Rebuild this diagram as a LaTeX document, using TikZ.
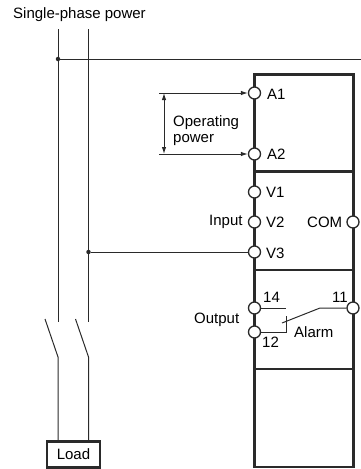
\documentclass[tikz,border=0pt]{standalone}
\usepackage{xcolor}
\usepackage{fontspec}
\setmainfont{Liberation Sans}
\usetikzlibrary{positioning, arrows.meta}
\definecolor{wireColor}{HTML}{2A2A2A}

\begin{document}
\begin{tikzpicture}[
  x=1pt, y=-1pt,
  wire/.style={draw=wireColor, line width=1pt},
  arrow/.style={wire, -{Latex[length=7pt,width=4.5pt]}},
  panel/.style={
    rectangle,
    draw=wireColor,
    line width=2.4pt,
    minimum width=99pt,
    outer sep=0pt,
    inner sep=0pt
  },
  terminal/.style={
    circle,
    draw=wireColor,
    fill=white,
    line width=1.3pt,
    minimum size=12pt,
    inner sep=0pt
  },
  junction/.style={circle, fill=wireColor, minimum size=4.5pt, inner sep=0pt},
  lbl/.style={font=\fontsize{15}{16}\selectfont, inner sep=0pt, anchor=west, align=left}
]
  \useasboundingbox (0,0) rectangle (361,469);

  % Device body
  \node (PanelA) [panel, minimum height=97pt, anchor=north west] at (254.5,74.5) {};
  \node (PanelB) [panel, minimum height=98.5pt, below=0pt of PanelA] {};
  \node (PanelC) [panel, minimum height=99pt, below=0pt of PanelB] {};
  \node (PanelD) [panel, minimum height=98pt, below=0pt of PanelC] {};

  % Terminals
  \node (A1) [terminal] at (254.5,93) {};
  \node (A2) [terminal] at (254.5,154) {};
  \node (V1) [terminal] at (254.5,192) {};
  \node (V2) [terminal] at (254.5,222) {};
  \node (V3) [terminal] at (254.5,252) {};
  \node (T14) [terminal] at (254.5,308) {};
  \node (T12) [terminal] at (254.5,332) {};
  \node (T11) [terminal] at (353,308) {};
  \node (COM) [terminal] at (353,222) {};

  % Supply lines and load
  \node (Load) [rectangle, draw=wireColor, line width=2.4pt, minimum width=53pt, minimum height=26pt,
    inner sep=0pt, font=\fontsize{15}{16}\selectfont] at (73.5,454.5) {Load};
  \node (JoinA) [junction] at (58,59) {};
  \node (JoinB) [junction] at (88.5,252) {};
  \coordinate (TopA) at (58,29);
  \coordinate (TopB) at (88.5,29);
  \coordinate (OpenA) at (58,322);
  \coordinate (OpenB) at (88.5,322);
  \coordinate (BladeA) at (45,319);
  \coordinate (BladeB) at (75.5,319);
  \coordinate (PivotA) at (58,357);
  \coordinate (PivotB) at (88.5,357);
  \coordinate (EdgeR) at (361,59);

  \draw[wire] (TopA) -- (OpenA);
  \draw[wire] (TopB) -- (OpenB);
  \draw[wire] (BladeA) -- (PivotA) -- (PivotA |- Load.north);
  \draw[wire] (BladeB) -- (PivotB) -- (PivotB |- Load.north);
  \draw[wire] (JoinA) -- (EdgeR);
  \draw[wire] (JoinB) -- (V3);

  % Operating power arrows
  \coordinate (TickA) at (159,93);
  \coordinate (TickB) at (159,154);
  \coordinate (SpanA) at (164,93);
  \coordinate (SpanB) at (164,154);
  \draw[arrow] (TickA) -- (A1);
  \draw[arrow] (TickB) -- (A2);
  \draw[arrow, {Latex[length=7pt,width=4.5pt]}-{Latex[length=7pt,width=4.5pt]}] (SpanA) -- (SpanB);

  % Alarm contact
  \coordinate (Stop14) at (286,308);
  \coordinate (Corner12) at (286,332);
  \coordinate (Stop12) at (286,316);
  \coordinate (Knee) at (320,308);
  \coordinate (Tip) at (282,323);
  \draw[wire] (T14) -- (Stop14);
  \draw[wire] (T12) -- (Corner12) -- (Stop12);
  \draw[wire] (T11) -- (Knee) -- (Tip);

  % Labels
  \node (Title) [lbl] at (13,15) {Single-phase power};
  \node (OpLabel) [lbl] at (173,131) {Operating\\power};
  \node (LabelA1) [lbl] at (267,94) {A1};
  \node (LabelA2) [lbl] at (267,154) {A2};
  \node (LabelV1) [lbl] at (266,192) {V1};
  \node (LabelV2) [lbl] at (266,222) {V2};
  \node (LabelV3) [lbl] at (266,253) {V3};
  \node (LabelIn) [lbl] at (209,222) {Input};
  \node (LabelCom) [lbl] at (307,222) {COM};
  \node (Label14) [lbl] at (263,297) {14};
  \node (Label11) [lbl] at (332,297) {11};
  \node (Label12) [lbl] at (262,342) {12};
  \node (LabelOut) [lbl] at (194,320) {Output};
  \node (LabelAlarm) [lbl] at (294,332) {Alarm};
\end{tikzpicture}
\end{document}
